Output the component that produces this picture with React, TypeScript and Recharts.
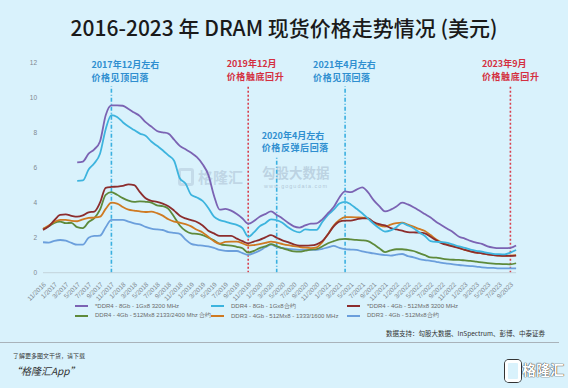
import React from 'react';
import { LineChart, Line, XAxis, YAxis, ReferenceLine } from 'recharts';

const months = [
  '11/2016','12/2016',
  '1/2017','2/2017','3/2017','4/2017','5/2017','6/2017','7/2017','8/2017','9/2017','10/2017','11/2017','12/2017',
  '1/2018','2/2018','3/2018','4/2018','5/2018','6/2018','7/2018','8/2018','9/2018','10/2018','11/2018','12/2018',
  '1/2019','2/2019','3/2019','4/2019','5/2019','6/2019','7/2019','8/2019','9/2019','10/2019','11/2019','12/2019',
  '1/2020','2/2020','3/2020','4/2020','5/2020','6/2020','7/2020','8/2020','9/2020','10/2020','11/2020','12/2020',
  '1/2021','2/2021','3/2021','4/2021','5/2021','6/2021','7/2021','8/2021','9/2021','10/2021','11/2021','12/2021',
  '1/2022','2/2022','3/2022','4/2022','5/2022','6/2022','7/2022','8/2022','9/2022','10/2022','11/2022','12/2022',
  '1/2023','2/2023','3/2023','4/2023','5/2023','6/2023','7/2023','8/2023','9/2023','10/2023',
];

const ddr4_8gb_3200 = [
  null,null,null,null,null,null,6.3,6.35,6.8,7.05,
  7.5,9.0,9.56,9.56,9.54,9.35,9.15,8.95,8.6,8.35,
  8.1,8.02,7.95,7.6,7.25,7.05,6.85,6.6,6.2,5.6,
  4.4,3.6,3.65,3.55,3.35,3.1,2.8,2.95,3.2,3.35,
  3.5,3.3,3.1,2.85,2.65,2.58,2.7,2.8,2.82,3.05,
  3.4,3.75,4.3,4.65,4.6,4.75,4.88,4.6,4.15,3.8,
  3.5,3.6,3.78,4.0,3.9,3.74,3.55,3.35,3.15,2.9,
  2.7,2.5,2.3,2.05,1.95,1.82,1.72,1.65,1.5,1.43,
  1.4,1.4,1.42,1.55,
];
const ddr4_8gb_contract = [
  null,null,null,null,null,null,5.25,5.27,5.9,6.25,
  6.8,8.2,9.0,8.9,8.6,8.35,8.15,7.95,7.82,7.5,
  7.25,7.0,6.7,6.4,5.4,5.1,4.45,4.3,4.1,3.7,
  3.2,3.0,2.92,2.82,2.73,2.55,2.05,2.3,2.65,2.83,
  3.05,3.0,2.85,2.6,2.4,2.3,2.48,2.45,2.45,2.9,
  3.3,3.6,3.95,4.05,3.9,3.65,3.4,3.1,2.8,2.54,
  2.35,2.42,2.6,2.83,2.7,2.54,2.3,2.1,1.8,1.76,
  1.75,1.7,1.6,1.5,1.42,1.32,1.25,1.2,1.13,1.08,
  1.06,1.05,1.15,1.3,
];
const ddr4_4gb_3200 = [
  2.45,2.65,3.0,3.3,3.33,3.25,3.2,3.28,3.45,3.49,
  4.0,4.85,4.9,4.92,4.96,5.05,5.0,4.6,4.25,4.1,
  4.05,3.95,3.8,3.55,3.26,3.1,3.0,2.9,2.7,2.4,
  2.25,2.1,2.1,2.1,1.95,1.8,1.68,1.78,1.88,2.02,
  2.15,2.0,1.85,1.75,1.62,1.55,1.55,1.56,1.62,1.8,
  2.2,2.65,2.92,2.97,2.98,3.05,3.11,3.1,2.9,2.77,
  2.7,2.55,2.47,2.4,2.32,2.3,2.29,2.25,2.05,1.85,
  1.68,1.58,1.49,1.4,1.3,1.22,1.15,1.11,1.05,1.01,
  0.97,0.96,0.96,0.98,
];
const ddr4_4gb_contract = [
  2.5,2.65,2.85,2.92,2.83,2.85,2.6,2.55,2.9,3.12,
  3.6,4.45,4.6,4.45,4.26,4.12,4.05,4.08,4.05,4.0,
  3.85,3.8,3.65,3.2,2.7,2.4,2.25,2.22,2.15,2.0,
  1.85,1.65,1.57,1.55,1.48,1.4,1.15,1.25,1.4,1.5,
  1.63,1.52,1.4,1.3,1.22,1.2,1.26,1.32,1.35,1.5,
  1.68,1.8,1.9,1.93,1.9,1.87,1.85,1.8,1.62,1.4,
  1.18,1.28,1.34,1.34,1.3,1.24,1.12,1.0,0.87,0.86,
  0.8,0.76,0.74,0.73,0.7,0.67,0.63,0.59,0.55,0.52,
  0.5,0.49,0.48,0.54,
];
const ddr3_4gb_1600 = [
  2.5,2.7,2.9,3.02,3.02,2.96,2.94,3.05,3.13,3.15,
  3.2,3.65,4.0,3.95,3.75,3.6,3.55,3.5,3.47,3.49,
  3.4,3.26,3.05,2.92,2.86,2.78,2.65,2.45,2.3,2.05,
  1.8,1.66,1.76,1.78,1.77,1.68,1.55,1.58,1.63,1.7,
  1.78,1.72,1.64,1.57,1.52,1.47,1.43,1.41,1.45,1.75,
  2.2,2.7,3.02,3.18,3.17,3.16,3.15,3.11,2.85,2.7,
  2.63,2.75,2.83,2.86,2.75,2.63,2.5,2.38,2.15,1.9,
  1.72,1.6,1.53,1.42,1.3,1.22,1.15,1.11,1.05,1.01,
  0.98,0.96,0.98,1.01,
];
const ddr3_4gb_contract = [
  1.74,1.72,1.82,1.87,1.83,1.7,1.6,1.6,2.0,2.1,
  2.12,2.6,3.02,3.02,3.02,2.92,2.82,2.76,2.62,2.52,
  2.47,2.44,2.32,2.27,2.22,1.9,1.65,1.58,1.55,1.5,
  1.42,1.3,1.25,1.24,1.24,1.12,1.02,1.12,1.26,1.45,
  1.6,1.48,1.4,1.36,1.33,1.31,1.3,1.3,1.3,1.36,
  1.45,1.53,1.42,1.35,1.32,1.3,1.22,1.16,1.1,1.05,
  1.01,0.98,1.03,1.07,0.95,0.88,0.78,0.72,0.68,0.62,
  0.56,0.52,0.48,0.44,0.41,0.38,0.35,0.31,0.28,0.27,
  0.25,0.25,0.25,0.25,
];

const yTicks = [0, 2, 4, 6, 8, 10, 12];

const series = [
  { key: 'a', name: '*DDR4 - 8Gb - 1Gx8 3200 MHz', color: '#7b63b3', values: ddr4_8gb_3200 },
  { key: 'b', name: 'DDR4 - 8Gb - 1Gx8合约', color: '#3db4de', values: ddr4_8gb_contract },
  { key: 'c', name: '*DDR4 - 4Gb - 512Mx8 3200 MHz', color: '#8c2d2d', values: ddr4_4gb_3200 },
  { key: 'd', name: 'DDR4 - 4Gb - 512Mx8 2133/2400 Mhz 合约', color: '#5e8a3b', values: ddr4_4gb_contract },
  { key: 'e', name: 'DDR3 - 4Gb - 512Mx8 - 1333/1600 MHz', color: '#cf7a22', values: ddr3_4gb_1600 },
  { key: 'f', name: 'DDR3 - 4Gb - 512Mx8合约', color: '#6b9fdc', values: ddr3_4gb_contract },
];
const drawOrder = ['f', 'd', 'e', 'c', 'b', 'a'];

const annotations = [
  { x: '11/2017', top: 10.65, l1: '2017年12月左右', l2: '价格见顶回落', color: '#2f8fd0', line: '#3ab0e0', dash: '4 2 1 2', dx: -20 },
  { x: '11/2019', top: 10.7, l1: '2019年12月', l2: '价格触底回升', color: '#d42f3f', line: '#d8404e', dash: '2 2', dx: -21.5 },
  { x: '4/2020', top: 6.64, l1: '2020年4月左右', l2: '价格反弹后回落', color: '#2f8fd0', line: '#3ab0e0', dash: '4 2 1 2', dx: -15 },
  { x: '4/2021', top: 10.65, l1: '2021年4月左右', l2: '价格见顶回落', color: '#2f8fd0', line: '#3ab0e0', dash: '4 2 1 2', dx: -32 },
  { x: '9/2023', top: 10.7, l1: '2023年9月', l2: '价格触底回升', color: '#d42f3f', line: '#d8404e', dash: '2 2', dx: -28.5 },
];

const data = months.map((m, i) => {
  const row: any = { month: m };
  series.forEach((s) => { row[s.key] = s.values[i]; });
  return row;
});

const cjk = '"Noto Sans CJK SC", "Noto Sans", sans-serif';
const latin = '"Liberation Sans", Arial, sans-serif';

const AnnLabel = (props: any) => {
  const { viewBox, a } = props;
  if (!viewBox) return null;
  const x = viewBox.x;
  const top = Math.min(viewBox.y, viewBox.y + (viewBox.height || 0));
  return (
    <g>
      <text x={x + a.dx} y={top - 18} fill={a.color} fontSize={9} fontWeight={700} fontFamily={cjk}>{a.l1}</text>
      <text x={x + a.dx} y={top - 5.5} fill={a.color} fontSize={9} fontWeight={700} fontFamily={cjk} letterSpacing={0.6}>{a.l2}</text>
    </g>
  );
};

export default function App() {
  const legendCols = [75, 211, 347];
  const legendRows = [306, 315.5];
  return (
    <div style={{ position: 'absolute', left: 0, top: 0, width: 568, height: 388, background: '#d9f2fc', overflow: 'hidden' }}>
      <div style={{ position: 'absolute', left: 0, top: 14, width: 568, textAlign: 'center', fontFamily: cjk, fontSize: 21, fontWeight: 500, color: '#1a1a1a', lineHeight: '26px' }}>
        2016-2023 年 DRAM 现货价格走势情况 (美元)
      </div>
      {/* watermarks */}
      <div style={{ position: 'absolute', left: 178, top: 168, width: 16, height: 18, border: '3px solid rgba(170,190,210,0.45)', borderRadius: 3, boxSizing: 'border-box' }} />
      <div style={{ position: 'absolute', left: 198, top: 166, fontFamily: cjk, fontSize: 15, color: 'rgba(170,190,210,0.55)', fontWeight: 700 }}>格隆汇</div>
      <div style={{ position: 'absolute', left: 262, top: 162, fontFamily: cjk, fontSize: 13.5, color: 'rgba(160,180,200,0.5)', fontWeight: 700 }}>勾股大数据</div>
      <div style={{ position: 'absolute', left: 264, top: 183, fontFamily: latin, fontSize: 5.5, color: 'rgba(150,170,190,0.6)', letterSpacing: 1 }}>www.gogudata.com</div>
      <div style={{ position: 'absolute', left: 0, top: 0 }}>
        <LineChart width={568} height={388} data={data} margin={{ top: 62.7, right: 51.9, bottom: 85.3, left: 23 }}>
          <XAxis
            dataKey="month"
            interval={1}
            tickLine={false}
            axisLine={{ stroke: '#c3d3db' }}
            tick={{ fontSize: 6.5, fill: '#808890', fontFamily: latin, angle: -45, textAnchor: 'end' } as any}
            tickMargin={3}
            height={30}
            padding={{ left: 0, right: 0 }}
          />
          <YAxis
            domain={[0, 12]}
            ticks={yTicks}
            width={20}
            axisLine={false}
            tickLine={false}
            tickSize={0}
            tickMargin={6}
            tick={{ fontSize: 6.5, fill: '#808890', fontFamily: latin }}
          />
          {annotations.map((a) => (
            <ReferenceLine
              key={a.l1}
              segment={[{ x: a.x, y: 0 }, { x: a.x, y: a.top }]}
              stroke={a.line}
              strokeWidth={1.6}
              strokeDasharray={a.dash}
              label={<AnnLabel a={a} />}
            />
          ))}
          {drawOrder.map((k) => {
            const s = series.find((q) => q.key === k)!;
            return (
              <Line
                key={s.key}
                dataKey={s.key}
                name={s.name}
                stroke={s.color}
                strokeWidth={1.8}
                type="monotone"
                dot={false}
                isAnimationActive={false}
                connectNulls={false}
              />
            );
          })}
        </LineChart>
      </div>
      {series.map((s, i) => {
        const col = i % 3;
        const row = Math.floor(i / 3);
        return (
          <div key={s.key} style={{ position: 'absolute', left: legendCols[col], top: legendRows[row] - 4, height: 8, display: 'flex', alignItems: 'center' }}>
            <div style={{ width: 13, height: 2, background: s.color, marginRight: 7 }} />
            <span style={{ fontFamily: latin, fontSize: 6, color: '#6a6a6a', whiteSpace: 'nowrap' }}>{s.name}</span>
          </div>
        );
      })}
      <div style={{ position: 'absolute', left: 386, top: 328, fontFamily: cjk, fontSize: 6.5, color: '#333', whiteSpace: 'nowrap' }}>
        数据支持：勾股大数据、InSpectrum、彭博、中泰证券
      </div>
      <div style={{ position: 'absolute', left: 0, top: 342, width: 559, height: 1, background: '#a9b3ba' }} />
      <div style={{ position: 'absolute', left: 13, top: 351, fontFamily: cjk, fontSize: 6, color: '#333', whiteSpace: 'nowrap' }}>
        了解更多图文干货，请下载
      </div>
      <div style={{ position: 'absolute', left: 11, top: 363, fontFamily: cjk, fontSize: 10, color: '#333', fontStyle: 'italic', whiteSpace: 'nowrap' }}>
        “格隆汇App”
      </div>
      <div style={{ position: 'absolute', left: 505, top: 360, width: 16, height: 22, border: '3px solid #ffffff', borderRadius: 4, boxSizing: 'border-box', boxShadow: '0 0 0 1px #333' }} />
      <div style={{ position: 'absolute', left: 522, top: 359, fontFamily: cjk, fontSize: 14, fontWeight: 700, color: '#ffffff', textShadow: '0 0 1px #222, 0 0 1px #222', whiteSpace: 'nowrap' }}>
        格隆汇
      </div>
    </div>
  );
}
